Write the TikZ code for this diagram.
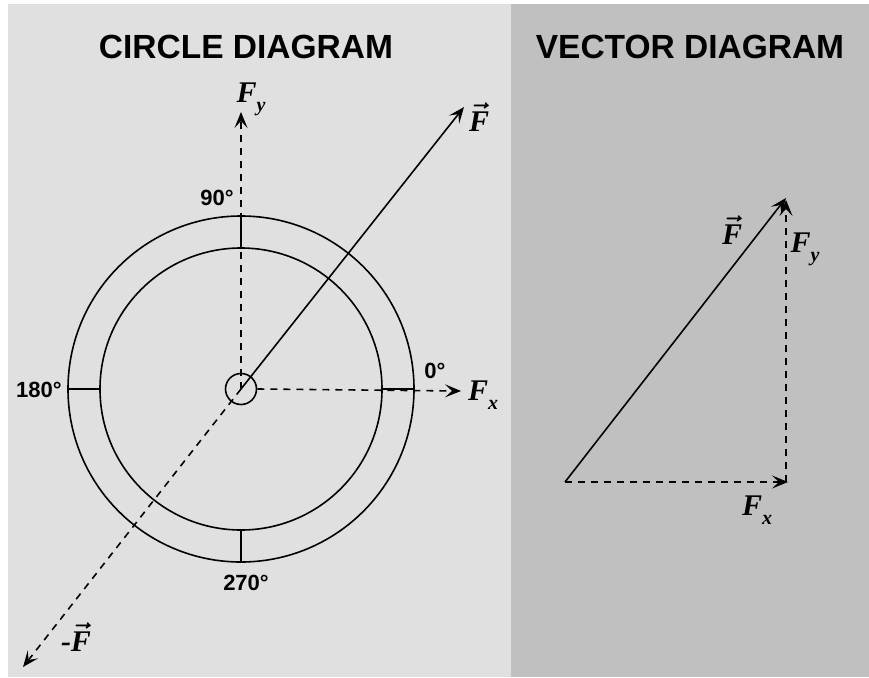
\RequirePackage{fix-cm}
\documentclass[tikz,border=0pt]{standalone}
\usepackage{fontspec}
\usepackage{amsmath}
\usepackage{bm}
\setmainfont{Liberation Sans}
\newfontfamily\lblserif{Liberation Serif}
\usetikzlibrary{arrows.meta, positioning}

\definecolor{leftbg}{HTML}{E0E0E0}
\definecolor{rightbg}{HTML}{C0C0C0}

\newcommand{\vF}{$\bm{\vec{\hbox{\lblserif\bfseries\itshape F}}}$}
\newcommand{\comp}[1]{F\raisebox{-0.3em}{\fontsize{20}{20}\selectfont #1}}

\begin{document}
\begin{tikzpicture}[
  x=1pt, y=-1pt,
  title/.style={font=\fontsize{33.5}{36}\selectfont\bfseries, inner sep=0pt},
  deg/.style={font=\fontsize{22}{24}\selectfont\bfseries, inner sep=0pt},
  vlbl/.style={font=\fontsize{30}{32}\selectfont\lblserif\bfseries\itshape, inner sep=0pt},
  solidline/.style={line width=1.6pt},
  dashline/.style={line width=1.6pt, dash pattern=on 7pt off 6pt},
  >={Stealth[length=16pt, width=13pt, inset=7pt]}
]
  \useasboundingbox (0,0) rectangle (869,677);
  \fill[white] (0,0) rectangle (869,677);
  \fill[leftbg] (8,4) rectangle (511,677);
  \fill[rightbg] (511,4) rectangle (869,677);

  % titles
  \node[title] (t1) at (246,47) {CIRCLE DIAGRAM};
  \node[title] (t2) at (690,47) {VECTOR DIAGRAM};

  % circle diagram
  \coordinate (o) at (241,389);
  \draw[solidline] (o) circle[radius=173];
  \draw[solidline] (o) circle[radius=141];
  \node[circle, draw, line width=1.6pt, minimum size=31pt, inner sep=0pt] (hub) at (o) {};
  \foreach \a in {0,90,180,270}
    \draw[solidline] (o) ++(\a:141) -- ++(\a:32);

  \node[deg] (d90) at (217,198) {90°};
  \node[deg] (d0) at (435,371) {0°};
  \node[deg] (d180) at (39,390) {180°};
  \node[deg] (d270) at (246,583) {270°};

  \coordinate (fytip) at (241,112);
  \coordinate (fxtip) at (461,391);
  \coordinate (ftip) at (464,107);
  \coordinate (mftip) at (23,667);

  \draw[dashline, ->] (hub.center) -- (fytip);
  \draw[dashline, ->] (hub.east) -- (fxtip);
  \draw[dashline, ->] (hub.center) -- (mftip);
  \draw[solidline, ->] (hub.center) -- (ftip);

  \node[vlbl] (fylbl) at (251,99) {\comp{y}};
  \node[vlbl] (fxlbl) at (483,395) {\comp{x}};
  \node[vlbl] (flbl) at (479,117) {\vF};
  \node[vlbl] (mflbl) at (76,637) {-\vF};

  % vector diagram
  \coordinate (a) at (565,482);
  \coordinate (b) at (788,482);
  \coordinate (c) at (786,198);
  \coordinate (bt) at (786,200);

  \draw[dashline, ->] (a) -- (b);
  \draw[dashline, ->] (786,482) -- (bt);
  \draw[solidline, ->] (a) -- (c);

  \node[vlbl] (vflbl) at (732,230) {\vF};
  \node[vlbl] (vfylbl) at (805,249) {\comp{y}};
  \node[vlbl] (vfxlbl) at (757,510) {\comp{x}};
\end{tikzpicture}
\end{document}
